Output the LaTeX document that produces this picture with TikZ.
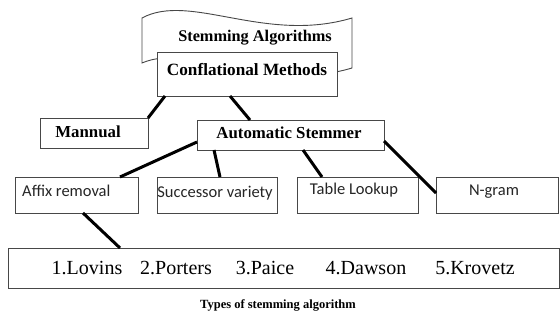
\documentclass[tikz,border=0pt]{standalone}
\usepackage{fontspec}
\setmainfont{Liberation Serif}
\newfontfamily\calfont{Carlito}
\begin{document}
\begin{tikzpicture}[x=1pt,y=-1pt,
  box/.style={draw=black!72,line width=0.9pt,fill=white,inner sep=0pt,outer sep=0pt,rectangle},
  conn/.style={line width=3pt,black},
  head/.style={font=\fontsize{16.8}{18}\selectfont\bfseries,inner sep=0pt},
  sans/.style={font=\calfont\fontsize{16.5}{18}\selectfont,inner sep=0pt,text=black!85},
  item/.style={font=\fontsize{20}{22}\selectfont,inner sep=0pt}]
\useasboundingbox (0,0) rectangle (560,331);
% banner
\draw[draw=black!72,line width=0.9pt,fill=white] (142,18) .. controls (190,-8) and (265,44) .. (352,18)
  -- (352,68) .. controls (265,94) and (190,42) .. (142,63) -- cycle;
\node[head,font=\fontsize{16.3}{18}\selectfont\bfseries] (stem) at (255,38) {Stemming Algorithms};
% boxes
\node[box,minimum width=180pt,minimum height=44pt] (conf) at (247,74) {};
\node[head,font=\fontsize{17.2}{18}\selectfont\bfseries] (conft) at (247,70) {Conflational Methods};
\node[box,minimum width=108pt,minimum height=30pt] (man) at (94,133) {};
\node[head] (mant) at (88,132) {Mannual};
\node[box,minimum width=187pt,minimum height=30pt] (auto) at (290.5,135) {};
\node[head] (autot) at (289,133) {Automatic Stemmer};
\node[box,minimum width=123pt,minimum height=36pt] (affix) at (76.5,195) {};
\node[sans,anchor=west] (affixt) at (22,191) {Affix removal};
\node[box,minimum width=120pt,minimum height=36pt] (succ) at (217,195) {};
\node[sans] (succt) at (215,193) {Successor variety};
\node[box,minimum width=121pt,minimum height=36pt] (tab) at (357.5,195) {};
\node[sans] (tabt) at (354,190) {Table Lookup};
\node[box,minimum width=122pt,minimum height=36pt] (ngram) at (497,195) {};
\node[sans] (ngramt) at (494,192) {N-gram};
\node[box,minimum width=551pt,minimum height=40pt] (list) at (283.5,268) {};
\node[item] (l1) at (87,268) {1.Lovins};
\node[item] (l2) at (176,268) {2.Porters};
\node[item] (l3) at (265,268) {3.Paice};
\node[item] (l4) at (366,268) {4.Dawson};
\node[item] (l5) at (475,268) {5.Krovetz};
\node[font=\fontsize{12.5}{14}\selectfont\bfseries,inner sep=0pt] (cap) at (278,305) {Types of stemming algorithm};
% connectors
\draw[conn] ([xshift=8pt]conf.south west) -- (man.north east);
\draw[conn] ([xshift=73pt]conf.south west) -- ([xshift=53pt]auto.north west);
\draw[conn] ([yshift=8pt]auto.south west) -- ([xshift=105pt]affix.north west);
\draw[conn] ([xshift=17pt]auto.south west) -- ([xshift=63pt]succ.north west);
\draw[conn] ([xshift=106pt]auto.south west) -- ([xshift=25pt]tab.north west);
\draw[conn] ([yshift=-21pt]auto.north east) -- ([yshift=-16pt]ngram.north west);
\draw[conn] ([xshift=68pt]affix.south west) -- ([xshift=112pt]list.north west);
\end{tikzpicture}
\end{document}
